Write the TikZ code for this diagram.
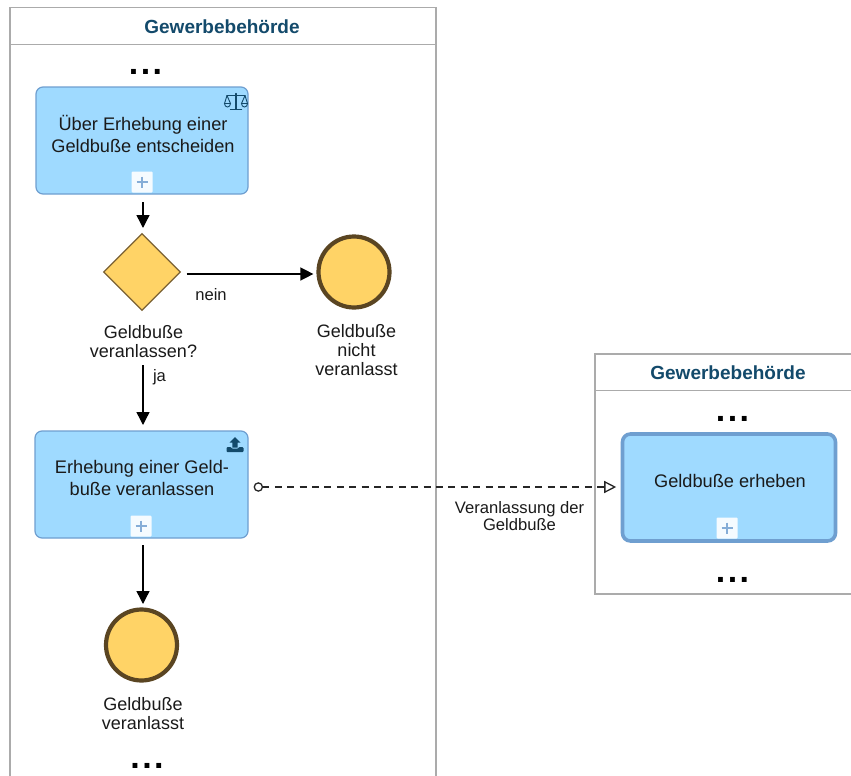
\documentclass[tikz,border=0pt]{standalone}
\usepackage{fontspec}
\setmainfont{Liberation Sans}
\usetikzlibrary{arrows.meta,shapes.geometric}
\definecolor{taskfill}{HTML}{9FDAFF}
\definecolor{taskline}{HTML}{6F9FD0}
\definecolor{evfill}{HTML}{FFD366}
\definecolor{evline}{HTML}{5A4522}
\definecolor{gwline}{HTML}{7A6032}
\definecolor{title}{HTML}{134A6B}
\definecolor{pool}{HTML}{ABABAB}
\definecolor{txt}{HTML}{1A1A1A}
\tikzset{
  tasksh/.style={draw=taskline,fill=taskfill,rounded corners=7,line width=1.2,inner sep=0},
  tasktxt/.style={align=center,text=txt,font=\fontsize{18.2}{21.5}\selectfont},
  gate/.style={diamond,aspect=1,draw=gwline,fill=evfill,line width=1.1,minimum width=77,minimum height=77,inner sep=0},
  ev/.style={circle,draw=evline,fill=evfill,line width=4.2,minimum size=71,inner sep=0},
  lbl/.style={align=center,text=txt,font=\fontsize{18}{18.6}\selectfont},
  small/.style={align=center,text=txt,font=\fontsize{16.6}{17}\selectfont},
  ttl/.style={text=title,font=\fontsize{19}{22}\selectfont\bfseries},
  dots/.style={anchor=base,inner sep=0,text=black,font=\fontsize{34}{34}\selectfont\bfseries},
  poolline/.style={draw=pool,line width=1.2},
  seq/.style={draw=black,line width=1.4,-{Triangle[length=13,width=13]}},
  msg/.style={draw=black!85,line width=1.3,dash pattern=on 7 off 5.4,{Circle[open,length=9.5,width=9.5,fill=white]}-{Triangle[open,length=12,width=12,fill=white]}},
  plusbox/.style={fill=white!90!taskfill,rounded corners=1,minimum size=21,inner sep=0},
  plusline/.style={draw=taskline!85!white,line width=1.3},
}
\newcommand{\plusmark}[2]{%
  \node[plusbox] at (#1,#2) {};
  \draw[plusline] (#1-5.5,#2) -- (#1+5.5,#2) (#1,#2-5.5) -- (#1,#2+5.5);}
\newcommand{\threedots}{.\kern2.5pt.\kern2.5pt.}
\begin{document}
\begin{tikzpicture}[x=1pt,y=-1pt]
\useasboundingbox (0,0) rectangle (851,776);
\fill[white] (0,0) rectangle (851,776);
% pools
\draw[poolline] (10,782) -- (10,7.5) -- (436,7.5) -- (436,782);
\draw[poolline] (10,44.5) -- (436,44.5);
\draw[poolline] (856,354) -- (595,354) -- (595,594) -- (856,594);
\draw[poolline] (595,390.5) -- (856,390.5);
\node[ttl] (h1) at (222,26.5) {Gewerbebehörde};
\node[ttl] (h2) at (728,372.5) {Gewerbebehörde};
\node[dots] (d1) at (145.5,74.5) {\threedots};
\node[dots] (d2) at (147,768) {\threedots};
\node[dots] (d3) at (732.5,421.5) {\threedots};
\node[dots] (d4) at (732.5,582) {\threedots};
% tasks
\node[tasksh,minimum width=212,minimum height=107] (t1) at (142,140.5) {};
\node[tasktxt] (t1t) at (143,134) {Über Erhebung einer\\Geldbuße entscheiden};
\node[tasksh,minimum width=213,minimum height=107] (t2) at (141.5,484.5) {};
\node[tasktxt] (t2t) at (142,478) {Erhebung einer Geld-\\buße veranlassen};
\node[tasksh,line width=3.6,minimum width=213,minimum height=107,rounded corners=8] (t3) at (729,487.5) {};
\node[tasktxt] (t3t) at (730,481) {Geldbuße erheben};
\plusmark{142}{182}
\plusmark{141}{526}
\plusmark{727}{528}
% gateway, events
\node[gate] (g) at (142,272) {};
\node[ev] (e1) at (354,272) {};
\node[ev] (e2) at (141.5,645) {};
\node[lbl] (g1) at (143.5,341.5) {Geldbuße\\veranlassen?};
\node[lbl] (e1l) at (356.5,350) {Geldbuße\\nicht\\veranlasst};
\node[lbl] (e2l) at (143,713.5) {Geldbuße\\veranlasst};
% flows
\draw[seq,shorten <=8,shorten >=6] (143,194) -- (143,234);
\draw[seq] ([xshift=5.5,yshift=-2]g.east) -- ([xshift=-3,yshift=-2]e1.west);
\draw[seq,shorten <=55,shorten >=6] (143,310) -- (143,431);
\draw[seq,shorten <=7,shorten >=5] (143,538) -- (143,609);
\draw[msg] ([xshift=5,yshift=-2.5]t2.east) -- ([xshift=-4.5,yshift=.5]t3.west);
\node[small] (nein) at (211,295) {nein};
\node[small] (ja) at (159.5,377) {ja};
\node[small] (vl) at (519.5,516) {Veranlassung der\\Geldbuße};
% scales icon
\begin{scope}[shift={(236,101)},draw=title,line width=.9,line cap=round]
\draw[line width=1.1] (0,-7.5) -- (0,8) (-5.5,8.5) -- (5.5,8.5);
\draw[line width=1.1] (-9,-5.5) -- (9,-5.5);
\draw (-9,-5.5) -- (-11.5,2.5) (-9,-5.5) -- (-5.5,2.5) (9,-5.5) -- (11.5,2.5) (9,-5.5) -- (5.5,2.5);
\draw (-11.5,2.5) -- (-5.5,2.5) arc[start angle=0,end angle=-180,x radius=3,y radius=-3.5] -- cycle;
\draw (5.5,2.5) -- (11.5,2.5) arc[start angle=0,end angle=-180,x radius=3,y radius=-3.5] -- cycle;
\end{scope}
% upload icon
\begin{scope}[shift={(235,445)}]
\fill[title] (0,-8) -- (5.5,-2.5) -- (2.7,-2.5) -- (2.7,2.5) -- (-2.7,2.5) -- (-2.7,-2.5) -- (-5.5,-2.5) -- cycle;
\fill[title,rounded corners=1] (-8.5,2) -- (-3.5,2) -- (-3.5,3.6) -- (3.5,3.6) -- (3.5,2) -- (8.5,2) -- (8.5,7) -- (-8.5,7) -- cycle;
\end{scope}
\end{tikzpicture}
\end{document}
